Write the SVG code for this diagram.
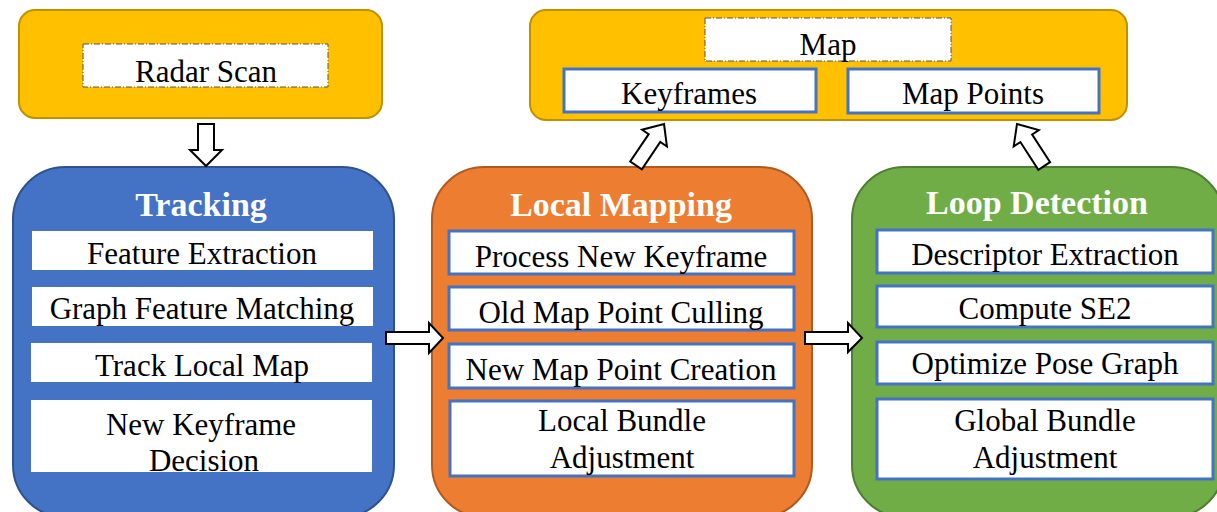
<svg xmlns="http://www.w3.org/2000/svg" width="1217" height="512" viewBox="0 0 1217 512">
<style>
.t{font-family:"Liberation Serif","Times New Roman",serif;font-size:31px;fill:#000;text-anchor:middle}
.h{font-family:"Liberation Serif","Times New Roman",serif;font-size:34px;font-weight:bold;fill:#fff;text-anchor:middle}
.yel{fill:#FFC000;stroke:#BF9000;stroke-width:2}
.dash{fill:#fff;stroke:#555;stroke-width:1;stroke-dasharray:6 2 1 2}
.wb{fill:#fff;stroke:#4472C4;stroke-width:3}
.wn{fill:#fff;stroke:none}
.arr{fill:#fff;stroke:#000;stroke-width:2;stroke-linejoin:miter}
</style>
<rect width="1217" height="512" fill="#fff"/>
<g id="radar">
<rect class="yel" x="19" y="10" width="363" height="108" rx="16"/>
<rect class="dash" x="83" y="44" width="245" height="43"/>
<text class="t" x="206" y="82">Radar Scan</text>
</g>
<g id="map">
<rect class="yel" x="530" y="10" width="597" height="110" rx="16"/>
<rect class="dash" x="705" y="18" width="246" height="43"/>
<text class="t" x="828" y="55">Map</text>
<rect class="wb" x="564" y="69" width="252" height="43"/>
<text class="t" x="689" y="104">Keyframes</text>
<rect class="wb" x="848" y="69" width="251" height="44"/>
<text class="t" x="973" y="104">Map Points</text>
</g>
<g id="tracking">
<rect x="13" y="167" width="381" height="350" rx="52" fill="#4472C4" stroke="#2F528F" stroke-width="2"/>
<text class="h" x="201" y="216">Tracking</text>
<rect class="wn" x="32" y="231" width="341" height="39"/>
<text class="t" x="202" y="264">Feature Extraction</text>
<rect class="wn" x="32" y="287" width="341" height="39"/>
<text class="t" x="202" y="319">Graph Feature Matching</text>
<rect class="wn" x="31" y="343" width="341" height="39"/>
<text class="t" x="202" y="376">Track Local Map</text>
<rect class="wn" x="31" y="400" width="341" height="72"/>
<text class="t" x="201" y="435">New Keyframe</text>
<text class="t" x="204" y="471">Decision</text>
</g>
<g id="localmapping">
<rect x="432" y="167" width="380" height="350" rx="52" fill="#ED7D31" stroke="#AE5A21" stroke-width="2"/>
<text class="h" x="621" y="216">Local Mapping</text>
<rect class="wb" x="449" y="231" width="345" height="43"/>
<text class="t" x="621" y="267">Process New Keyframe</text>
<rect class="wb" x="449" y="287" width="345" height="43"/>
<text class="t" x="621" y="323">Old Map Point Culling</text>
<rect class="wb" x="449" y="344" width="345" height="44"/>
<text class="t" x="621" y="380">New Map Point Creation</text>
<rect class="wb" x="450" y="401" width="344" height="75"/>
<text class="t" x="622" y="431">Local Bundle</text>
<text class="t" x="622" y="468">Adjustment</text>
</g>
<g id="loopdetection">
<rect x="852" y="167" width="372" height="350" rx="52" fill="#70AD47" stroke="#507E32" stroke-width="2"/>
<text class="h" x="1037" y="214">Loop Detection</text>
<rect class="wb" x="877" y="230" width="336" height="43"/>
<text class="t" x="1045" y="265">Descriptor Extraction</text>
<rect class="wb" x="877" y="286" width="336" height="41"/>
<text class="t" x="1045" y="319">Compute SE2</text>
<rect class="wb" x="877" y="342" width="336" height="42"/>
<text class="t" x="1045" y="374">Optimize Pose Graph</text>
<rect class="wb" x="877" y="399" width="336" height="80"/>
<text class="t" x="1045" y="431">Global Bundle</text>
<text class="t" x="1045" y="468">Adjustment</text>
</g>
<g id="connectors">
<path class="arr" d="M198,124 H214 V150 H222 L206,166 L190,150 H198 Z"/>
<path class="arr" d="M386,332 H429 V323 L443,338 L429,353 V344 H386 Z"/>
<path class="arr" d="M805,332 H848 V323 L862,338 L848,352 V344 H805 Z"/>
<path class="arr" transform="translate(664,124) rotate(34)" d="M0,0 L15,17 H7 V50 H-7 V17 H-15 Z"/>
<path class="arr" transform="translate(1017,124) rotate(-33)" d="M0,0 L15,17 H7 V50 H-7 V17 H-15 Z"/>
</g>
</svg>
